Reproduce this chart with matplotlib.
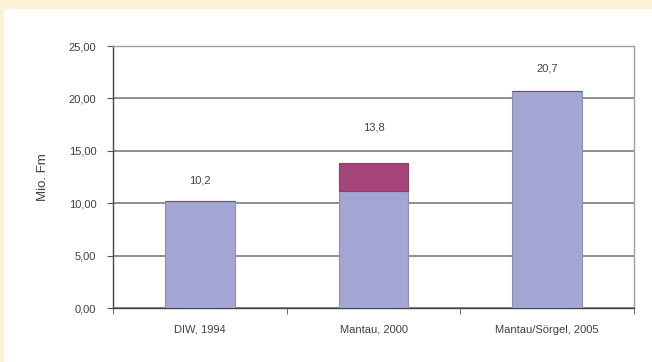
import matplotlib.pyplot as plt
from matplotlib.patches import Rectangle
from matplotlib.ticker import FuncFormatter

plt.rcParams['font.family'] = ['Liberation Sans', 'DejaVu Sans']

categories = ["DIW, 1994", "Mantau, 2000", "Mantau/Sörgel, 2005"]
base = [10.2, 11.2, 20.7]
extra = [0.0, 2.6, 0.0]
labels = ["10,2", "13,8", "20,7"]
label_pos = [12.2, 17.2, 22.9]

fig = plt.figure(figsize=(6.52, 3.62), dpi=100)
fig.patch.set_facecolor('#fdf1d6')
fig.patches.append(Rectangle((4 / 652, 0), 1, 1 - 9 / 362, transform=fig.transFigure,
                             facecolor='white', edgecolor='none', zorder=-5))

ax = fig.add_axes([113 / 652, 1 - 308 / 362, 521 / 652, 262 / 362])
ax.set_zorder(2)
ax.set_facecolor('white')

x = range(len(categories))
ax.bar(x, base, width=0.4, color='#a3a6d3', edgecolor='#8c8fb0', linewidth=0.8, zorder=3)
ax.bar(x, extra, width=0.4, bottom=base, color='#a6457a', edgecolor='#8c4068', linewidth=0.8, zorder=3)

for i, t in enumerate(labels):
    ax.text(i, label_pos[i], t, ha='center', va='center', fontsize=8, color='#404040')

ax.set_xlim(-0.5, 2.5)
ax.set_ylim(0, 25)
ax.set_yticks([0, 5, 10, 15, 20, 25])
ax.yaxis.set_major_formatter(FuncFormatter(lambda v, p: f"{v:.2f}".replace('.', ',')))
ax.grid(axis='y', color='#8e8e8e', linewidth=1.4, zorder=1)

ax.set_xticks(list(x))
ax.set_xticklabels(categories)
ax.set_xticks([-0.5, 0.5, 1.5, 2.5], minor=True)
ax.tick_params(axis='x', which='major', length=0, pad=12, labelsize=8, labelcolor='#404040')
ax.tick_params(axis='x', which='minor', length=4, color='#555555', direction='out')
ax.tick_params(axis='y', length=4, color='#555555', labelsize=8, labelcolor='#404040', pad=8)

for s in ['top', 'right']:
    ax.spines[s].set_color('#a0a0a0')
    ax.spines[s].set_linewidth(1.0)
for s in ['left', 'bottom']:
    ax.spines[s].set_color('#444444')
    ax.spines[s].set_linewidth(1.0)

ax.set_ylabel("Mio. Fm", fontsize=9.5, color='#404040', labelpad=14)

plt.savefig('out.png', dpi=100, facecolor=fig.get_facecolor())
